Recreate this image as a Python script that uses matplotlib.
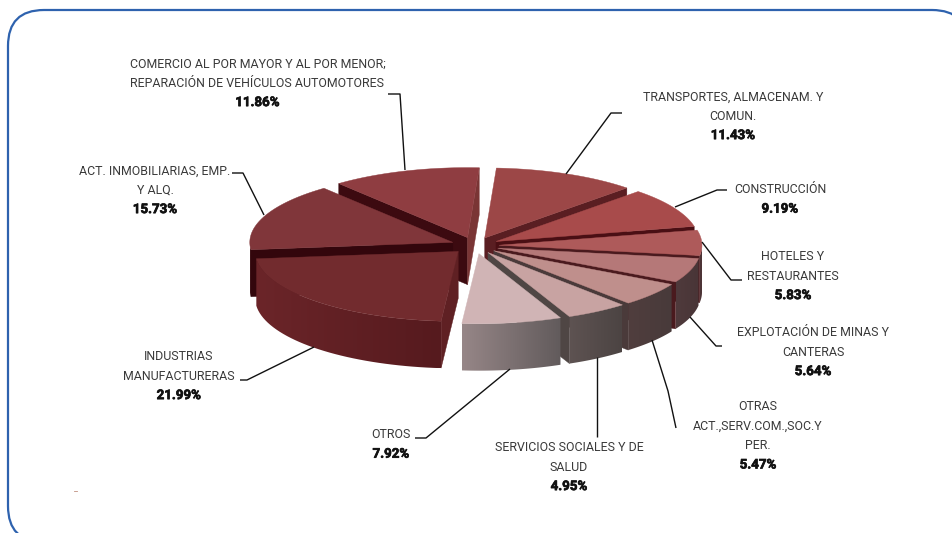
import numpy as np
import matplotlib
matplotlib.use("Agg")
import matplotlib.pyplot as plt
import matplotlib.patheffects as pe
from matplotlib.patches import FancyBboxPatch, Polygon
from matplotlib.colors import to_rgb

# --- data ---
categories = [
    ["TRANSPORTES, ALMACENAM. Y", "COMUN."],
    ["CONSTRUCCIÓN"],
    ["HOTELES Y", "RESTAURANTES"],
    ["EXPLOTACIÓN DE MINAS Y", "CANTERAS"],
    ["OTRAS", "ACT.,SERV.COM.,SOC.Y", "PER."],
    ["SERVICIOS SOCIALES Y DE", "SALUD"],
    ["OTROS"],
    ["INDUSTRIAS", "MANUFACTURERAS"],
    ["ACT. INMOBILIARIAS, EMP.", "Y ALQ."],
    ["COMERCIO AL POR MAYOR Y AL POR MENOR;", "REPARACIÓN DE VEHÍCULOS AUTOMOTORES"],
]
values = [11.43, 9.19, 5.83, 5.64, 5.47, 4.95, 7.92, 21.99, 15.73, 11.86]

# --- styles ---
top_colors = ["#9C4747", "#A84B4B", "#AE5A5A", "#B57878", "#BF8F8C",
              "#C8A3A2", "#D0B4B5", "#722B2E", "#80363A", "#8F3D41"]
face_a0 = ["#5A1E22", "#4A0F14", "#4A1A1E", "#4A1A1E", "#4A2A2A",
           "#4F4644", "#625B5C", "#5F2023", "#33060C", "#3C0A10"]
face_a1 = ["#5A1E22", "#4A0F14", "#4A1A1E", "#4A1A1E", "#4A3A3A",
           "#4F4644", "#625B5C", "#5F2023", "#33060C", "#7A3535"]
wall_left = ["#5A1E22", "#5A1E22", "#4D3638", "#4F3A3C", "#503E3E",
             "#5E5352", "#968687", "#6B2529", "#33060C", "#33060C"]
wall_right = ["#5A1E22", "#5A1E22", "#4A2E30", "#493537", "#483A3A",
              "#4C4443", "#625B5C", "#561A1E", "#33060C", "#33060C"]

CX, CY = 475, 245.5
RX, RY = 203, 70
DEPTH = 47
EXPLODE = 24
START = 3.3

label_x = [733, 780, 793, 813, 758, 569, 391, 179, 155, 257.5]
label_y = [96.8, 189.8, 256.8, 332.8, 406.8, 447.8, 434.8, 356.8, 170.8, 63.8]
leaders = [
    [(622, 113), (611, 113), (566, 174)],
    [(727, 190), (717, 190), (675, 207)],
    [(742, 280), (731, 280), (702, 242)],
    [(722, 346), (716, 346), (690, 317)],
    [(676, 428), (668, 391), (652, 340)],
    [(597, 437), (597, 357)],
    [(415, 438), (426, 438), (510, 369)],
    [(240, 380), (247, 380), (314, 347)],
    [(232, 173), (243, 173), (264, 215)],
    [(388, 94), (400, 94), (405, 170)],
]

plt.rcParams["font.family"] = ["Roboto", "DejaVu Sans"]
fig = plt.figure(figsize=(9.52, 5.33), dpi=100)
ax = fig.add_axes([0, 0, 1, 1])
ax.axis("off")

ax.add_patch(FancyBboxPatch((8 + 36, 10 + 36), 968 - 8 - 72, 542 - 10 - 72,
                            boxstyle="round,pad=36,rounding_size=36",
                            fc="white", ec="#2E62AE", lw=1.6, zorder=0))
ax.plot([74, 77], [490.5, 490.5], color="#C09080", lw=0.6)

vals = np.array(values, dtype=float)
edges = START + np.concatenate([[0], np.cumsum(vals)]) * 360.0 / vals.sum()


def rim(cx, cy, a):
    r = np.radians(a)
    return cx + RX * np.sin(r), cy - RY * np.cos(r)


mids = (edges[:-1] + edges[1:]) / 2
order = np.argsort(-np.cos(np.radians(mids)))
z = 2
for i in order:
    a0, a1, m = edges[i], edges[i + 1], np.radians(mids[i])
    cx = CX + EXPLODE * np.sin(m)
    cy = CY - EXPLODE * RY / RX * np.cos(m)
    # radial faces that look towards the viewer
    for a, col, vis in ((a0, face_a0[i], np.sin(np.radians(a0)) < 0),
                        (a1, face_a1[i], np.sin(np.radians(a1)) > 0)):
        if vis:
            x, y = rim(cx, cy, a)
            ax.fill([cx, x, x, cx], [cy, y, y + DEPTH, cy + DEPTH],
                    fc=col, ec=col, lw=0.3, zorder=z)
            z += 1
    # outer wall, shaded left to right through a clipped gradient
    lo, hi = max(a0, 90), min(a1, 270)
    if hi > lo:
        ts = np.linspace(lo, hi, 40)
        xs, ys = rim(cx, cy, ts)
        cl, cr = np.array(to_rgb(wall_left[i])), np.array(to_rgb(wall_right[i]))
        grad = np.linspace(0, 1, 64)[None, :, None] * (cr - cl) + cl
        im = ax.imshow(grad, extent=[xs.min(), xs.max(), ys.max() + DEPTH, ys.min()],
                       aspect="auto", interpolation="bilinear", zorder=z)
        clip = Polygon(np.c_[np.r_[xs, xs[::-1]], np.r_[ys, ys[::-1] + DEPTH]],
                       transform=ax.transData, fc="none", ec="none")
        ax.add_patch(clip)
        im.set_clip_path(clip)
        z += 1
    # top surface
    ts = np.linspace(a0, a1, 60)
    xs, ys = rim(cx, cy, ts)
    ax.fill(np.r_[cx, xs], np.r_[cy, ys], fc=top_colors[i], ec=top_colors[i],
            lw=0.3, zorder=z)
    z += 1

for pts in leaders:
    px, py = zip(*pts)
    ax.plot(px, py, color="#111111", lw=1.0, zorder=z, solid_capstyle="butt")

LINE = 19.4
heavy = [pe.withStroke(linewidth=0.5, foreground="#111111")]
for cat, v, x, y in zip(categories, values, label_x, label_y):
    for j, line in enumerate(cat):
        ax.text(x, y + j * LINE, line, ha="center", va="center", fontsize=8.9,
                color="#3A3A3A", zorder=z + 1)
    ax.text(x, y + len(cat) * LINE, f"{v:.2f}%", ha="center", va="center",
            fontsize=9.6, fontweight="bold", color="#111111",
            path_effects=heavy, zorder=z + 1)

ax.set_xlim(0, 952)
ax.set_ylim(533, 0)
fig.savefig("out.png", dpi=100)
